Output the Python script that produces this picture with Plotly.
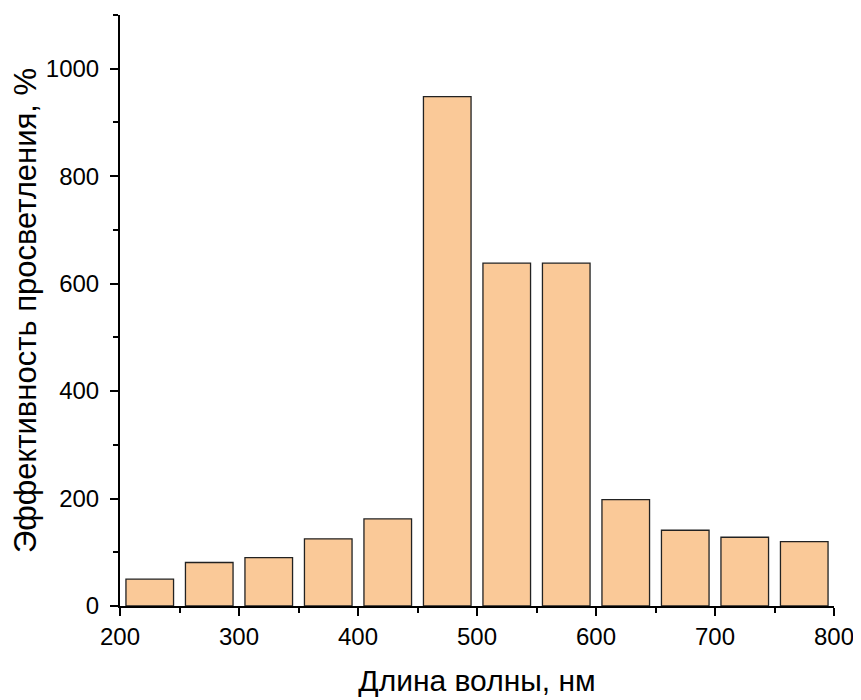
import plotly.graph_objects as go

wavelengths = [225, 275, 325, 375, 425, 475, 525, 575, 625, 675, 725, 775]
efficiency = [50, 81, 90, 125, 162, 948, 638, 638, 198, 141, 128, 120]

FONT = "Liberation Sans, Arial, sans-serif"

fig = go.Figure()
fig.add_trace(go.Bar(
    x=wavelengths, y=efficiency, width=40,
    marker=dict(color="#FAC998", line=dict(color="#222222", width=1.3)),
))

axis_common = dict(
    showline=True, linecolor="black", linewidth=2, mirror=False,
    ticks="outside", ticklen=8, tickwidth=2, tickcolor="black",
    showgrid=False, zeroline=False,
    tickfont=dict(family=FONT, size=24, color="black"),
)

fig.update_layout(
    width=853, height=692,
    margin=dict(l=112, r=24, t=7, b=94),
    plot_bgcolor="white", paper_bgcolor="white",
    showlegend=False,
    xaxis=dict(range=[200, 800], tickvals=[200, 300, 400, 500, 600, 700, 800],
               minor=dict(tickvals=[250, 350, 450, 550, 650, 750], ticks="outside", ticklen=5, tickwidth=2, tickcolor="black"),
               title=dict(text="Длина волны, нм", font=dict(family=FONT, size=30, color="black"), standoff=21),
               **axis_common),
    yaxis=dict(range=[0, 1100], tickvals=[0, 200, 400, 600, 800, 1000],
               ticklabelstandoff=6,
               minor=dict(tickvals=[100, 300, 500, 700, 900, 1100], ticks="outside", ticklen=5, tickwidth=2, tickcolor="black"),
               title=dict(text="Эффективность просветления, %", font=dict(family=FONT, size=31, color="black"), standoff=3),
               **axis_common),
)

fig.write_html("out.html")
